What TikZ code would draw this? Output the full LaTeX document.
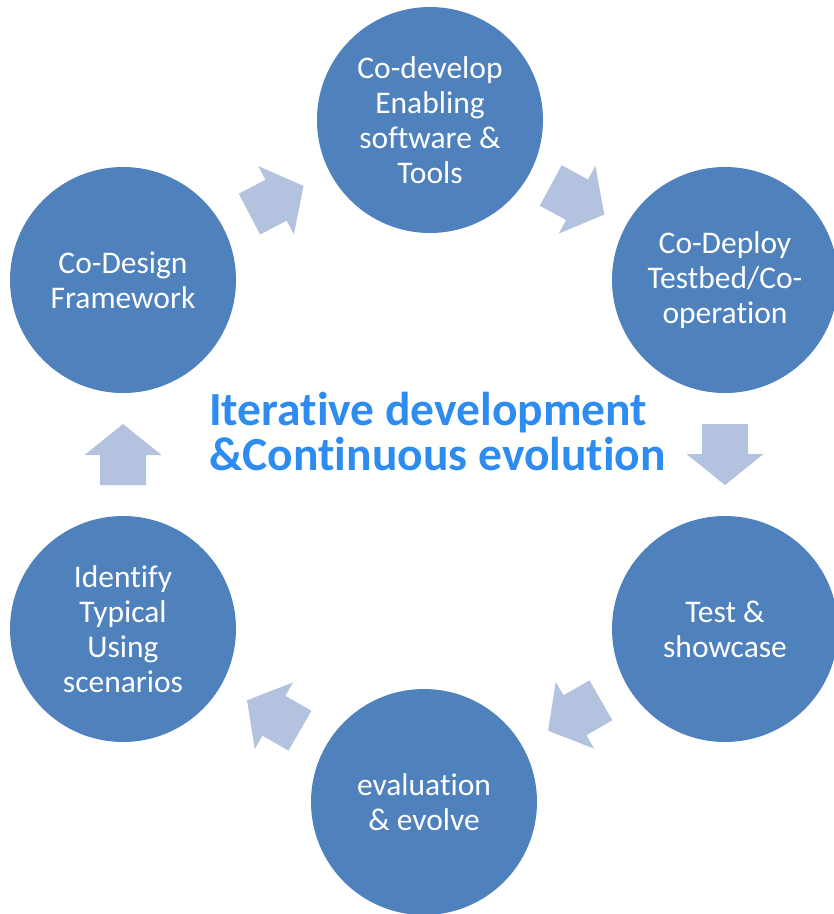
\documentclass[tikz,border=0pt]{standalone}
\usepackage{fontspec}
\setmainfont{Carlito}[Ligatures={NoCommon}]
\usetikzlibrary{calc}
\definecolor{circblue}{HTML}{4F81BD}
\definecolor{arrowblue}{HTML}{B3C2DE}
\definecolor{titleblue}{HTML}{2E8BEF}
\tikzset{
  stage/.style={circle, fill=circblue, draw=none, minimum size=226pt, inner sep=0pt,
    text=white, align=center, font=\fontsize{31.5}{35}\selectfont},
  blockfill/.style={fill=arrowblue, draw=none},
  titletext/.style={text=titleblue, align=left, inner sep=0pt,
    font=\fontsize{47.5}{45}\selectfont\bfseries}
}
\newcommand{\blockarrow}[2]{%
  \pgfmathanglebetweenpoints{\pgfpointanchor{#1}{center}}{\pgfpointanchor{#2}{center}}%
  \let\myarrowangle\pgfmathresult
  \begin{scope}[shift={($(#1)!0.5!(#2)$)}, rotate=\myarrowangle]
    \fill[blockfill] (-30.5,23) -- (-0.5,23) -- (-0.5,38.5) -- (30.5,0)
      -- (-0.5,-38.5) -- (-0.5,-23) -- (-30.5,-23) -- cycle;
  \end{scope}%
}
\begin{document}
\begin{tikzpicture}[x=1pt, y=-1pt]
\useasboundingbox (0,0) rectangle (834,914);
\node[stage] (lt) at (123,280) {Co-Design\\Framework};
\node[stage] (t)  at (430,120) {Co-develop\\Enabling\\software \&\\Tools};
\node[stage] (rt) at (725,280) {Co-Deploy\\Testbed/Co-\\operation};
\node[stage] (rb) at (725,629) {Test \&\\showcase};
\node[stage] (b)  at (424,802) {evaluation\\\& evolve};
\node[stage] (lb) at (123,629) {Identify\\Typical\\Using\\scenarios};
\blockarrow{lt}{t}
\blockarrow{t}{rt}
\blockarrow{rt}{rb}
\blockarrow{rb}{b}
\blockarrow{b}{lb}
\blockarrow{lb}{lt}
\node[titletext, anchor=base west] (title) at (209,470) {Iterative development\\\&Continuous evolution};
\end{tikzpicture}
\end{document}
